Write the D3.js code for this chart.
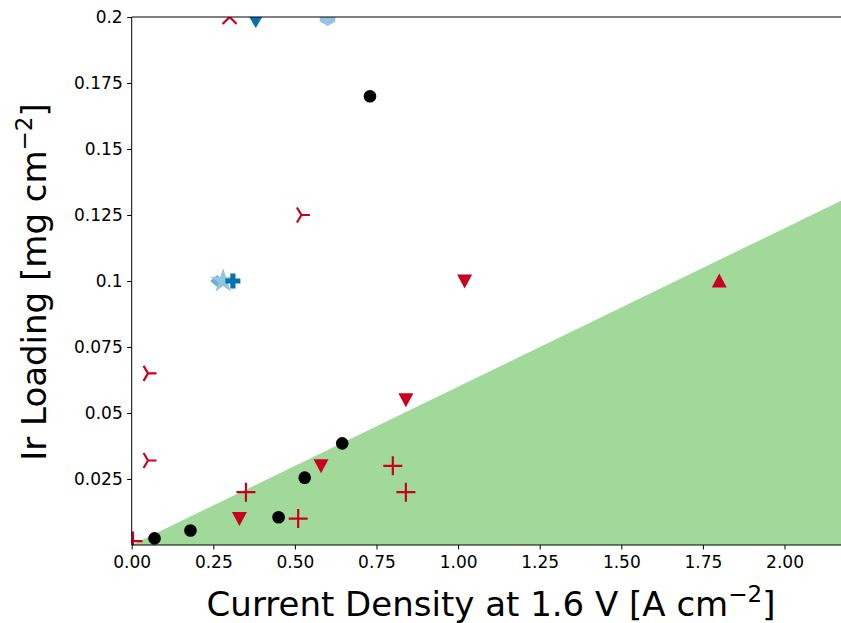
<!DOCTYPE html>
<html>
<head>
<meta charset="utf-8">
<script src="https://cdn.jsdelivr.net/npm/d3@7"></script>
<style>
  body { margin: 0; background: #fff; }
  svg { display: block; font-family: "DejaVu Sans", sans-serif; }
</style>
</head>
<body>
<svg id="chart" width="841" height="623"></svg>
<script>
// data
const xTicks = [0, 0.25, 0.5, 0.75, 1.0, 1.25, 1.5, 1.75, 2.0];
const yTicks = [0.025, 0.05, 0.075, 0.1, 0.125, 0.15, 0.175, 0.2];
const yTickLabels = ["0.025", "0.05", "0.075", "0.1", "0.125", "0.15", "0.175", "0.2"];

// shaded region (upper edge)
const fillX = [0, 2.2];
const fillY = [0, 0.132];

const blackCircleX = [0.07, 0.18, 0.45, 0.53, 0.645, 0.73];
const blackCircleY = [0.0025, 0.0055, 0.0105, 0.0255, 0.0385, 0.17];

const redPlusX = [0.004, 0.35, 0.51, 0.80, 0.84];
const redPlusY = [0.0015, 0.02, 0.01, 0.03, 0.02];

const redDownX = [0.33, 0.58, 0.84, 1.02];
const redDownY = [0.01, 0.03, 0.055, 0.1];

const redUpX = [1.8];
const redUpY = [0.1];

const redTriX = [0.05, 0.05, 0.52];
const redTriY = [0.065, 0.032, 0.125];

const redCrossX = [0.30];
const redCrossY = [0.2];

const darkDiamondX = [0.38];
const darkDiamondY = [0.2];
const darkPlusX = [0.31];
const darkPlusY = [0.1];

const lightDiamondX = [0.262];
const lightDiamondY = [0.1];
const lightStarX = [0.28];
const lightStarY = [0.1];
const lightHexX = [0.60];
const lightHexY = [0.2];

const red = "#ca0020", darkBlue = "#0571b0", lightBlue = "#92c5de", green = "#a1d99b";

const svg = d3.select("#chart");
const axLeft = 131.7, axTop = 17, axBottom = 545, axRight = 849.8;

let x = d3.scaleLinear().domain([0, 2.2]).range([axLeft, axRight]);
let y = d3.scaleLinear().domain([0, 0.2]).range([axBottom, axTop]);

svg.append("defs").append("clipPath").attr("id", "ax")
    .append("rect")
    .attr("x", axLeft).attr("y", axTop)
    .attr("width", axRight - axLeft).attr("height", axBottom - axTop);

// green area
let area = d3.area()
    .x(d => x(d[0]))
    .y0(y(0))
    .y1(d => y(d[1]));
svg.append("path")
    .datum(fillX.map((v, i) => [v, fillY[i]]))
    .attr("d", area)
    .attr("fill", green)
    .attr("clip-path", "url(#ax)");

let marks = svg.append("g").attr("clip-path", "url(#ax)");

function zip(xs, ys) { return xs.map((v, i) => [v, ys[i]]); }

function filled(xs, ys, pathStr, color) {
    marks.selectAll(null).data(zip(xs, ys)).enter().append("path")
        .attr("transform", d => "translate(" + x(d[0]) + "," + y(d[1]) + ")")
        .attr("d", pathStr)
        .attr("fill", color);
}
function stroked(xs, ys, pathStr, color) {
    marks.selectAll(null).data(zip(xs, ys)).enter().append("path")
        .attr("transform", d => "translate(" + x(d[0]) + "," + y(d[1]) + ")")
        .attr("d", pathStr)
        .attr("fill", "none")
        .attr("stroke", color)
        .attr("stroke-width", 2.2);
}

const circlePath = d3.symbol(d3.symbolCircle, 125)();
const downTri = "M-7.5,-6.5L7.5,-6.5L0,7.5Z";
const upTri = "M-7.5,6.5L7.5,6.5L0,-7.5Z";
const plusPath = "M-9.5,0H9.5M0,-9.5V9.5";
const crossPath = "M-7,-7L7,7M-7,7L7,-7";
const triRight = "M0,0L8.5,0M0,0L-4.5,-7.5M0,0L-4.5,7.5";
const thinDiamond = "M0,-11L6.5,0L0,11L-6.5,0Z";
const sideDiamond = "M0,-6L7,0L0,6L-7,0Z";
const filledPlus = "M-2.6,-7.5H2.6V-2.6H7.5V2.6H2.6V7.5H-2.6V2.6H-7.5V-2.6H-2.6Z";
const starPath = d3.symbol(d3.symbolStar, 190)();
const hexPath = "M0,-9L7.8,-4.5L7.8,4.5L0,9L-7.8,4.5L-7.8,-4.5Z";

filled(lightDiamondX, lightDiamondY, sideDiamond, "#6baed6");
filled(lightStarX, lightStarY, starPath, lightBlue);
filled(darkPlusX, darkPlusY, filledPlus, darkBlue);
filled(darkDiamondX, darkDiamondY, thinDiamond, darkBlue);
filled(lightHexX, lightHexY, hexPath, lightBlue);
stroked(redCrossX, redCrossY, crossPath, red);
stroked(redTriX, redTriY, triRight, red);
filled(redDownX, redDownY, downTri, red);
filled(redUpX, redUpY, upTri, red);
stroked(redPlusX, redPlusY, plusPath, red);
filled(blackCircleX, blackCircleY, circlePath, "#000");

// axes
let xAxis = d3.axisBottom(x).tickValues(xTicks).tickFormat(d3.format(".2f")).tickSizeOuter(0).tickSize(4.5);
let gx = svg.append("g").attr("transform", "translate(0," + axBottom + ")").call(xAxis);
gx.select(".domain").remove();
gx.selectAll("text").attr("font-size", 17).attr("fill", "#000").attr("dy", "0.9em")
  .attr("font-family", "DejaVu Sans");

let yAxis = d3.axisLeft(y).tickValues(yTicks).tickFormat((d, i) => yTickLabels[i]).tickSizeOuter(0).tickSize(4.5);
let gy = svg.append("g").attr("transform", "translate(" + axLeft + ",0)").call(yAxis);
gy.select(".domain").remove();
gy.selectAll("text").attr("font-size", 17).attr("fill", "#000").attr("x", -9)
  .attr("font-family", "DejaVu Sans");

// spines
svg.append("line").attr("x1", axLeft).attr("x2", axLeft).attr("y1", axTop).attr("y2", axBottom).attr("stroke", "#000");
svg.append("line").attr("x1", axLeft).attr("x2", axRight).attr("y1", axTop).attr("y2", axTop).attr("stroke", "#000");
svg.append("line").attr("x1", axLeft).attr("x2", axRight).attr("y1", axBottom).attr("y2", axBottom).attr("stroke", "#000");

// axis titles
let xt = svg.append("text")
    .attr("x", 491).attr("y", 616)
    .attr("text-anchor", "middle")
    .attr("font-size", 34);
xt.append("tspan").text("Current Density at 1.6 V [A cm");
xt.append("tspan").attr("font-size", 23).attr("dy", -14).text("\u22122");
xt.append("tspan").attr("dy", 14).text("]");

let yt = svg.append("text")
    .attr("transform", "translate(46,282) rotate(-90)")
    .attr("text-anchor", "middle")
    .attr("font-size", 34);
yt.append("tspan").text("Ir Loading [mg cm");
yt.append("tspan").attr("font-size", 23).attr("dy", -14).text("\u22122");
yt.append("tspan").attr("dy", 14).text("]");
</script>
</body>
</html>
